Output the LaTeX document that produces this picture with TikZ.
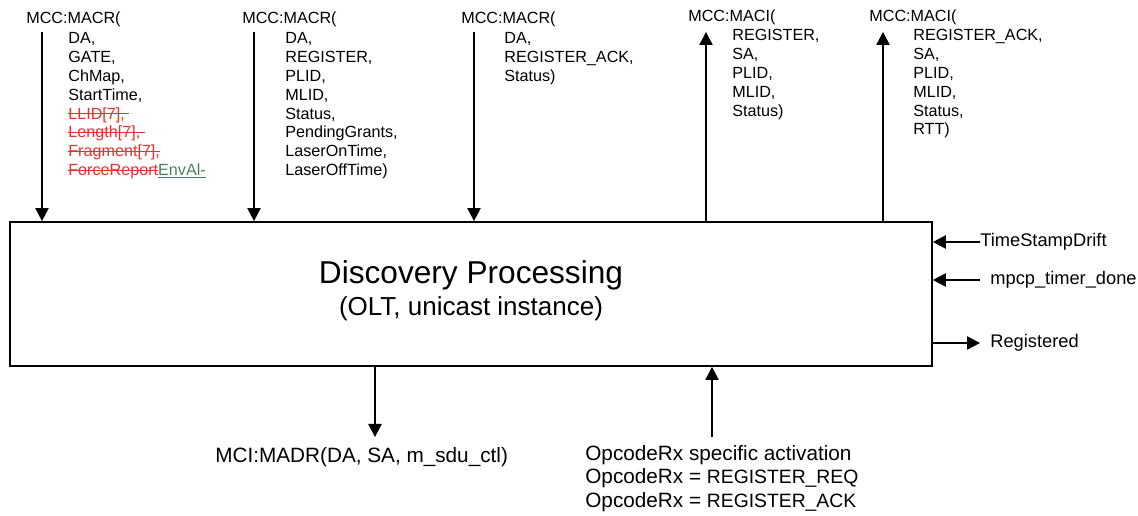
\documentclass[tikz,border=0pt]{standalone}
\usepackage{fontspec}
\setmainfont{Liberation Sans}
\usetikzlibrary{arrows.meta}
\definecolor{sred}{RGB}{232,48,48}
\definecolor{sgreen}{RGB}{72,130,92}
\newcommand{\strk}[1]{{\color{sred}\setbox0\hbox{#1}\rlap{\rule[0.3em]{\wd0}{0.5pt}}\box0}}
\newcommand{\undl}[1]{{\color{sgreen}\setbox0\hbox{#1}\rlap{\rule[-0.16em]{\wd0}{0.5pt}}\box0}}
\begin{document}
\begin{tikzpicture}[x=0.02cm,y=-0.02cm,
  lbl/.style={anchor=base west, inner sep=0pt, font=\fontsize{9.2}{11}\selectfont},
  side/.style={anchor=west, inner sep=0pt, font=\fontsize{10.4}{12}\selectfont},
  big/.style={anchor=west, inner sep=0pt, font=\fontsize{11.8}{14}\selectfont},
  arr/.style={line width=0.75pt, -{Triangle[width=7.6pt,length=7.4pt]}},
  procbox/.style={draw, line width=1.1pt, inner sep=0pt, minimum width=18.44cm, minimum height=2.88cm}]
\useasboundingbox (0,0) rectangle (1138,516);

% main box
\node[procbox] (box) at (471,294) {};
\node[inner sep=0pt, font=\fontsize{18}{20}\selectfont] (t1) at (471,275) {Discovery Processing};
\node[inner sep=0pt, font=\fontsize{14.8}{17}\selectfont] (t2) at (471,309) {(OLT, unicast instance)};

% block 1
\node[lbl] (h1) at (26,24) {MCC:MACR(};
\node[lbl] (a1) at (68,44) {DA,};
\node[lbl] (a2) at (68,62.8) {GATE,};
\node[lbl] (a3) at (68,81.6) {ChMap,};
\node[lbl] (a4) at (68,100.4) {StartTime,};
\node[lbl] (a5) at (68,119.2) {\strk{LLID[7],\ }};
\node[lbl] (a6) at (68,138) {\strk{Length[7],\ }};
\node[lbl] (a7) at (68,156.8) {\strk{Fragment[7],}};
\node[lbl] (a8) at (68,175.6) {\strk{ForceReport}\undl{EnvAl-}};
\coordinate (s1) at (42,32);
\draw[arr] (s1) -- (s1 |- box.north);

% block 2
\node[lbl] (h2) at (242,24) {MCC:MACR(};
\node[lbl] (b1) at (285,44) {DA,};
\node[lbl] (b2) at (285,62.8) {REGISTER,};
\node[lbl] (b3) at (285,81.6) {PLID,};
\node[lbl] (b4) at (285,100.4) {MLID,};
\node[lbl] (b5) at (285,119.2) {Status,};
\node[lbl] (b6) at (285,138) {PendingGrants,};
\node[lbl] (b7) at (285,156.8) {LaserOnTime,};
\node[lbl] (b8) at (285,175.6) {LaserOffTime)};
\coordinate (s2) at (254,32);
\draw[arr] (s2) -- (s2 |- box.north);

% block 3
\node[lbl] (h3) at (461,24) {MCC:MACR(};
\node[lbl] (c1) at (504,44) {DA,};
\node[lbl] (c2) at (504,62.8) {REGISTER\_ACK,};
\node[lbl] (c3) at (504,81.6) {Status)};
\coordinate (s3) at (474,32);
\draw[arr] (s3) -- (s3 |- box.north);

% block 4
\node[lbl] (h4) at (688,22) {MCC:MACI(};
\node[lbl] (d1) at (732,41) {REGISTER,};
\node[lbl] (d2) at (732,59.8) {SA,};
\node[lbl] (d3) at (732,78.6) {PLID,};
\node[lbl] (d4) at (732,97.4) {MLID,};
\node[lbl] (d5) at (732,116.2) {Status)};
\coordinate (s4) at (706,32);
\draw[arr] (s4 |- box.north) -- (s4);

% block 5
\node[lbl] (h5) at (869,22) {MCC:MACI(};
\node[lbl] (e1) at (913,41) {REGISTER\_ACK,};
\node[lbl] (e2) at (913,59.8) {SA,};
\node[lbl] (e3) at (913,78.6) {PLID,};
\node[lbl] (e4) at (913,97.4) {MLID,};
\node[lbl] (e5) at (913,116.2) {Status,};
\node[lbl] (e6) at (913,135) {RTT)};
\coordinate (s5) at (883,32);
\draw[arr] (s5 |- box.north) -- (s5);

% right side
\node[side] (tsd) at (980,242) {TimeStampDrift};
\draw[arr] (tsd.west) -- (tsd.west -| box.east);
\node[side] (mpcp) at (990,280) {mpcp\_timer\_done};
\coordinate (m1) at (980,280);
\draw[arr] (m1) -- (m1 -| box.east);
\node[side] (reg) at (990,343) {Registered};
\coordinate (g1) at (980,343);
\draw[arr] (g1 -| box.east) -- (g1);

% bottom
\node[big] (madr) at (215,457) {MCI:MADR(DA, SA, m\_sdu\_ctl)};
\coordinate (b0) at (375,437);
\draw[arr] (b0 |- box.south) -- (b0);
\node[big] (op1) at (585,455) {OpcodeRx specific activation};
\node[big] (op2) at (585,478.5) {OpcodeRx = {\fontsize{11}{13}\selectfont REGISTER\_REQ}};
\node[big] (op3) at (585,502) {OpcodeRx = {\fontsize{11}{13}\selectfont REGISTER\_ACK}};
\coordinate (u0) at (712,437);
\draw[arr] (u0) -- (u0 |- box.south);
\end{tikzpicture}
\end{document}
